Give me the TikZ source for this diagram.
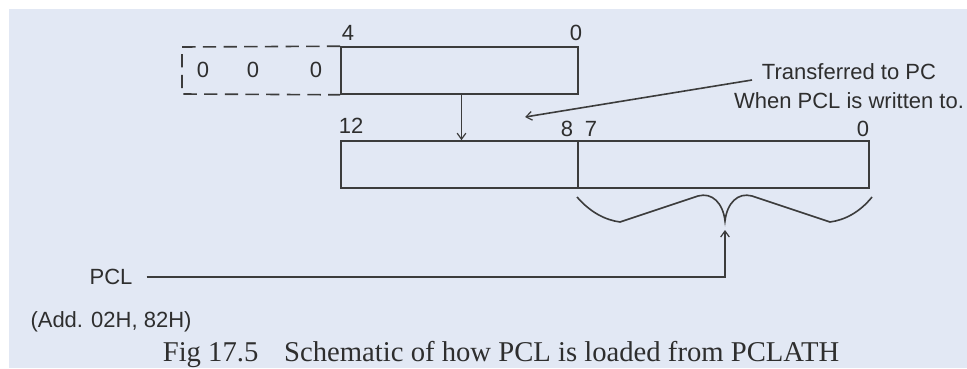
\documentclass[tikz,border=0pt]{standalone}
\usepackage{fontspec}
\setmainfont{Liberation Serif}
\setsansfont{Liberation Sans}
\usetikzlibrary{arrows.meta,calc}
\definecolor{bgc}{HTML}{E2E8F4}
\definecolor{lnc}{HTML}{3C3C3C}
\definecolor{txc}{HTML}{2E2E2E}
\begin{document}
\begin{tikzpicture}[x=0.75pt,y=-0.75pt,
  reg/.style={draw=lnc,line width=1.2pt,inner sep=0pt,minimum height=47*0.75pt},
  dreg/.style={draw=lnc,line width=1.2pt,dash pattern=on 10pt off 5.5pt},
  lbl/.style={font=\sffamily\fontsize{16.5}{19}\selectfont,text=txc,inner sep=0pt},
  conn/.style={draw=lnc,line width=1.2pt,-{Straight Barb[length=4.5pt,width=6.5pt,line width=0.9pt]}},
  plain/.style={draw=lnc,line width=1.2pt}]
\useasboundingbox (0,0) rectangle (967,368);
\fill[bgc] (9,9) rectangle (967,368);
% registers
\node[reg,minimum width=237*0.75pt] (hi) at (459.5,70.5) {};
\node[reg,minimum width=237*0.75pt] (pch) at (459.5,164.5) {};
\node[reg,minimum width=291*0.75pt] (pcl) at (723.5,164.5) {};
\coordinate (extnw) at (182,47);
\coordinate (extsw) at (182,94);
\draw[dreg] (hi.north west) -- (extnw) -- (extsw) -- (hi.south west);
% bit labels
\node[lbl] (b4) at (348,33) {4};
\node[lbl] (b0a) at (576,33) {0};
\node[lbl] (b12) at (351,126) {12};
\node[lbl] (b8) at (567,129) {8};
\node[lbl] (b7) at (591,129) {7};
\node[lbl] (b0b) at (863,129) {0};
\node[lbl] (z1) at (203,70) {0};
\node[lbl] (z2) at (253,70) {0};
\node[lbl] (z3) at (316,70) {0};
% transfer arrow
\draw[conn] ([xshift=2*0.75pt]hi.south) -- ([xshift=2*0.75pt]pch.north);
\node[lbl,align=center,font=\sffamily\fontsize{16.5}{22}\selectfont] (note) at (849,86) {Transferred to PC\\When PCL is written to.};
\coordinate (ns) at (752,80);
\coordinate (ne) at (525,117);
\draw[conn] (ns) -- (ne);
% brace
\coordinate (tip) at (725,221);
\draw[plain] (577,197) .. controls (590,212) and (605,220) .. (620,222)
  -- (698,196) .. controls (712,192) and (723,203) .. (tip)
  .. controls (727,203) and (738,192) .. (752,196)
  -- (830,222) .. controls (845,220) and (860,212) .. (872,197);
% PCL
\node[lbl] (pcllbl) at (111,277) {PCL};
\coordinate (tipb) at (725,230);
\draw[conn] ([xshift=14*0.75pt]pcllbl.east) -| (tipb);
\node[lbl] (addr) at (111,322) {(Add. 02H, 82H)};
\node[inner sep=0pt,text=txc,font=\rmfamily\fontsize{21.5}{24}\selectfont] (cap) at (501,354) {Fig 17.5\hspace{0.9em}Schematic of how PCL is loaded from PCLATH};
\end{tikzpicture}
\end{document}
